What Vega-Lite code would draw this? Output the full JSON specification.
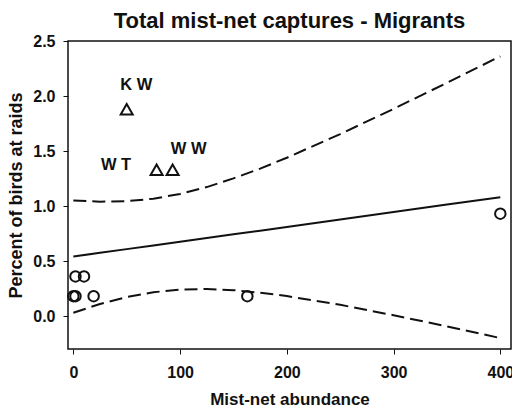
{
  "$schema": "https://vega.github.io/schema/vega-lite/v6.json",
  "autosize": {"type": "none"},
  "width": 443,
  "height": 308,
  "padding": {"left": 68, "top": 41, "right": 1, "bottom": 62},
  "background": "white",
  "title": {
    "text": "Total mist-net captures - Migrants",
    "font": "Liberation Sans",
    "fontSize": 22,
    "fontWeight": "bold",
    "color": "#111",
    "anchor": "middle",
    "offset": 0
  },
  "config": {
    "view": {"stroke": "#111", "strokeWidth": 1.5},
    "axis": {
      "grid": false,
      "domain": false,
      "tickColor": "#111",
      "tickSize": 5,
      "tickWidth": 1,
      "labelFont": "Liberation Sans",
      "labelFontSize": 16,
      "labelFontWeight": "bold",
      "labelColor": "#111",
      "titleFont": "Liberation Sans",
      "titleFontWeight": "bold",
      "titleColor": "#111"
    }
  },
  "datasets": {
    "curves": [
      {"x": 0, "fit": 0.54, "upper": 1.05, "lower": 0.03},
      {"x": 25, "fit": 0.574, "upper": 1.039, "lower": 0.109},
      {"x": 50, "fit": 0.608, "upper": 1.044, "lower": 0.172},
      {"x": 75, "fit": 0.641, "upper": 1.066, "lower": 0.216},
      {"x": 100, "fit": 0.675, "upper": 1.11, "lower": 0.24},
      {"x": 125, "fit": 0.709, "upper": 1.172, "lower": 0.246},
      {"x": 150, "fit": 0.743, "upper": 1.251, "lower": 0.235},
      {"x": 175, "fit": 0.776, "upper": 1.34, "lower": 0.212},
      {"x": 200, "fit": 0.81, "upper": 1.439, "lower": 0.181},
      {"x": 250, "fit": 0.878, "upper": 1.654, "lower": 0.102},
      {"x": 300, "fit": 0.945, "upper": 1.883, "lower": 0.007},
      {"x": 350, "fit": 1.013, "upper": 2.12, "lower": -0.094},
      {"x": 400, "fit": 1.08, "upper": 2.361, "lower": -0.201}
    ],
    "points": [
      {"x": 2, "y": 0.36, "group": "circle"},
      {"x": 10, "y": 0.36, "group": "circle"},
      {"x": 0, "y": 0.18, "group": "circle"},
      {"x": 2, "y": 0.18, "group": "circle"},
      {"x": 19, "y": 0.18, "group": "circle"},
      {"x": 163, "y": 0.18, "group": "circle"},
      {"x": 400, "y": 0.93, "group": "circle"},
      {"x": 50, "y": 1.88, "group": "triangle"},
      {"x": 78, "y": 1.33, "group": "triangle"},
      {"x": 93, "y": 1.33, "group": "triangle"}
    ],
    "labels": [
      {"x": 59, "y": 2.1, "label": "K W"},
      {"x": 40, "y": 1.37, "label": "W T"},
      {"x": 108, "y": 1.52, "label": "W W"}
    ]
  },
  "layer": [
    {
      "data": {"name": "curves"},
      "mark": {"type": "line", "color": "#111", "strokeWidth": 2, "clip": true},
      "encoding": {
        "x": {"field": "x", "type": "quantitative", "scale": {"domain": [-5, 410], "nice": false, "zero": false},
              "axis": {"values": [0, 100, 200, 300, 400], "title": "Mist-net abundance", "titleFontSize": 17, "labelPadding": 10, "titlePadding": 11}},
        "y": {"field": "fit", "type": "quantitative", "scale": {"domain": [-0.3, 2.5], "nice": false, "zero": false},
              "axis": {"values": [0, 0.5, 1, 1.5, 2, 2.5], "format": ".1f", "title": "Percent of birds at raids", "titleFontSize": 18, "labelPadding": 8, "titlePadding": 7}}
      }
    },
    {
      "data": {"name": "curves"},
      "mark": {"type": "line", "color": "#111", "strokeWidth": 2, "strokeDash": [13, 6], "clip": true},
      "encoding": {
        "x": {"field": "x", "type": "quantitative"},
        "y": {"field": "upper", "type": "quantitative"}
      }
    },
    {
      "data": {"name": "curves"},
      "mark": {"type": "line", "color": "#111", "strokeWidth": 2, "strokeDash": [13, 6], "clip": true},
      "encoding": {
        "x": {"field": "x", "type": "quantitative"},
        "y": {"field": "lower", "type": "quantitative"}
      }
    },
    {
      "data": {"name": "points"},
      "transform": [{"filter": "datum.group === 'circle'"}],
      "mark": {"type": "point", "shape": "circle", "filled": false, "color": "#111", "opacity": 1, "strokeWidth": 2, "size": 110},
      "encoding": {
        "x": {"field": "x", "type": "quantitative"},
        "y": {"field": "y", "type": "quantitative"}
      }
    },
    {
      "data": {"name": "points"},
      "transform": [{"filter": "datum.group === 'triangle'"}],
      "mark": {"type": "point", "shape": "triangle-up", "filled": false, "color": "#111", "opacity": 1, "strokeWidth": 2, "size": 144},
      "encoding": {
        "x": {"field": "x", "type": "quantitative"},
        "y": {"field": "y", "type": "quantitative"}
      }
    },
    {
      "data": {"name": "labels"},
      "mark": {"type": "text", "font": "Liberation Sans", "fontSize": 16.5, "fontWeight": "bold", "color": "#111", "baseline": "middle", "align": "center"},
      "encoding": {
        "x": {"field": "x", "type": "quantitative"},
        "y": {"field": "y", "type": "quantitative"},
        "text": {"field": "label"}
      }
    }
  ]
}
